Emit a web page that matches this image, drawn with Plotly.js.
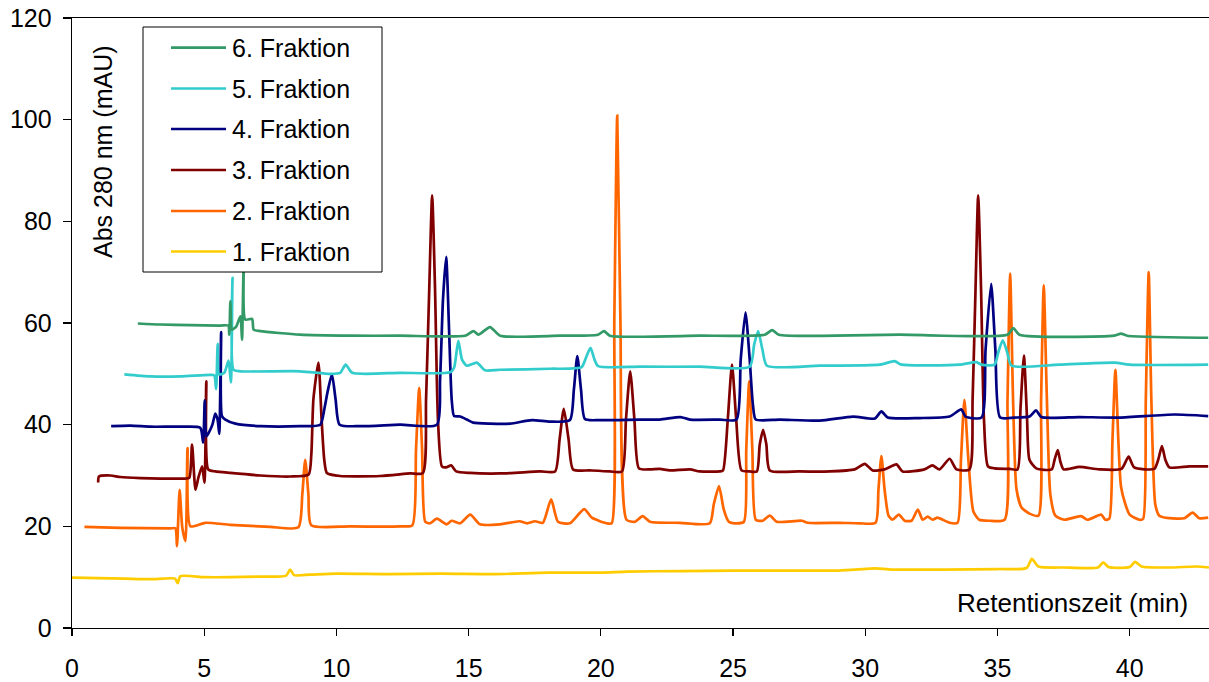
<!DOCTYPE html>
<html>
<head>
<meta charset="utf-8">
<script src="https://cdn.plot.ly/plotly-3.0.1.min.js"></script>
<style>
  html, body { margin: 0; padding: 0; background: #ffffff; }
  #chart { width: 1209px; height: 682px; }
</style>
</head>
<body>
<div id="chart"></div>
<script>
// ---------- data ----------
const seriesNames = ["1. Fraktion", "2. Fraktion", "3. Fraktion", "4. Fraktion", "5. Fraktion", "6. Fraktion"];
const seriesColors = ["#FFCC00", "#FF6600", "#800000", "#000080", "#33CCCC", "#339966"];

// 1. Fraktion
const f1_x = [0, 1, 2, 3, 3.9, 4.0, 4.1, 5, 6, 7, 8.1, 8.25, 8.4, 9, 10, 12, 14, 16, 18, 20, 21, 23, 25, 27, 29, 30.2, 30.5, 31, 33, 35, 36.1, 36.3, 36.55, 37.5, 38.8, 39.0, 39.2, 40.0, 40.2, 40.45, 41.5, 42.5, 43];
const f1_y = [9.9, 9.8, 9.7, 9.6, 9.7, 8.8, 10.2, 10.0, 10.0, 10.1, 10.3, 11.5, 10.4, 10.5, 10.7, 10.6, 10.7, 10.6, 10.9, 10.9, 11.1, 11.2, 11.3, 11.3, 11.3, 11.7, 11.7, 11.5, 11.5, 11.6, 11.8, 13.6, 12.1, 11.9, 11.9, 12.9, 12.0, 12.0, 13.0, 12.1, 11.9, 12.1, 11.9];

// 2. Fraktion
const f2_x = [0.47, 1.83, 3.72, 3.91, 3.97, 4.07, 4.17, 4.29, 4.37, 4.48, 5.04, 5.99, 7.5, 8.56, 8.71, 8.82, 8.94, 9.05, 10.52, 12.41, 12.87, 13.01, 13.13, 13.24, 13.36, 13.54, 13.8, 14.17, 14.36, 14.68, 15.06, 15.43, 16.19, 16.92, 17.21, 17.51, 17.81, 18.12, 18.38, 18.83, 19.37, 19.66, 20.22, 20.41, 20.51, 20.62, 20.74, 20.97, 21.29, 21.58, 21.86, 22.99, 24.12, 24.27, 24.47, 24.65, 24.84, 25.07, 25.41, 25.5, 25.61, 25.73, 25.86, 26.12, 26.39, 26.65, 27.6, 27.82, 29.03, 29.79, 30.39, 30.5, 30.61, 30.73, 30.88, 31.03, 31.27, 31.49, 31.75, 31.99, 32.17, 32.36, 32.55, 32.73, 33.19, 33.49, 33.62, 33.75, 33.9, 34.09, 34.31, 34.69, 35.27, 35.38, 35.48, 35.59, 35.72, 35.91, 36.21, 36.55, 36.65, 36.75, 36.87, 37.0, 37.19, 37.53, 38.16, 38.4, 38.92, 39.08, 39.23, 39.35, 39.46, 39.57, 39.67, 39.84, 40.0, 40.37, 40.51, 40.61, 40.72, 40.82, 40.97, 41.12, 41.5, 42.07, 42.38, 42.63, 42.97];
const f2_y = [19.9, 19.7, 19.6, 19.6, 16.1, 27.2, 19.8, 17.1, 35.4, 20.0, 20.7, 20.3, 19.9, 19.8, 26.3, 33.1, 26.3, 20.2, 20.0, 20.0, 20.2, 35.1, 47.2, 35.1, 20.9, 20.6, 21.5, 20.4, 21.1, 20.6, 22.3, 20.4, 20.4, 21.0, 20.6, 21.0, 20.7, 25.3, 20.9, 20.6, 23.4, 21.7, 20.6, 20.6, 60.7, 100.8, 60.7, 21.3, 20.9, 22.0, 20.9, 20.7, 20.6, 24.3, 27.9, 23.3, 20.9, 20.6, 20.9, 35.1, 48.5, 35.1, 21.3, 21.1, 22.1, 20.9, 21.1, 20.7, 20.7, 20.6, 20.7, 27.3, 33.8, 27.3, 22.1, 21.3, 22.3, 21.1, 21.1, 23.3, 21.3, 21.9, 21.3, 21.7, 20.7, 20.7, 33.1, 44.9, 33.1, 22.9, 21.3, 21.1, 21.3, 44.9, 69.7, 44.9, 27.3, 23.7, 22.5, 22.1, 44.9, 67.4, 44.9, 26.3, 22.1, 21.3, 22.0, 21.3, 22.3, 21.3, 21.5, 37.1, 50.8, 37.1, 27.9, 24.3, 22.3, 21.3, 21.5, 44.9, 70.0, 44.9, 24.3, 22.1, 21.6, 21.6, 22.7, 21.6, 21.7];

// 3. Fraktion
const f3_x = [0.99, 1.02, 1.45, 1.83, 2.59, 3.34, 4.29, 4.44, 4.54, 4.67, 4.78, 4.92, 5.01, 5.08, 5.15, 5.42, 5.99, 7.12, 8.25, 8.95, 9.05, 9.13, 9.32, 9.44, 9.54, 9.64, 10.14, 11.65, 12.79, 13.27, 13.39, 13.51, 13.62, 13.73, 13.84, 13.99, 14.15, 14.34, 14.53, 15.05, 16.19, 17.7, 18.27, 18.44, 18.6, 18.78, 18.95, 19.59, 20.34, 20.8, 20.95, 21.11, 21.27, 21.44, 21.86, 22.23, 22.61, 23.37, 23.74, 24.5, 24.62, 24.8, 24.96, 25.12, 25.32, 25.63, 25.9, 26.01, 26.14, 26.26, 26.39, 27.52, 28.66, 29.6, 29.98, 30.28, 30.73, 31.18, 31.41, 32.24, 32.54, 32.81, 33.19, 33.45, 33.94, 34.06, 34.17, 34.27, 34.38, 34.49, 34.64, 34.89, 35.46, 35.76, 35.87, 36.0, 36.12, 36.21, 36.47, 37.05, 37.16, 37.28, 37.38, 37.5, 38.1, 38.85, 39.69, 39.96, 40.17, 40.93, 41.08, 41.22, 41.35, 41.5, 42.26, 42.97];
const f3_y = [28.6, 29.8, 30.0, 29.7, 29.5, 29.4, 29.4, 29.6, 36.1, 27.2, 29.6, 31.8, 28.6, 48.5, 31.2, 30.8, 30.5, 30.0, 29.8, 30.2, 34.1, 45.0, 52.2, 41.0, 33.1, 30.5, 29.9, 29.9, 30.4, 30.5, 45.0, 66.6, 85.1, 66.6, 41.0, 31.8, 31.6, 32.0, 30.8, 30.5, 30.4, 30.8, 30.8, 37.1, 43.1, 37.1, 31.2, 31.0, 30.8, 30.8, 41.0, 50.5, 41.0, 31.4, 31.2, 31.3, 31.0, 31.2, 30.8, 30.8, 31.0, 41.0, 51.8, 41.0, 31.0, 30.8, 30.8, 36.1, 39.0, 36.1, 31.0, 30.8, 30.8, 31.2, 32.3, 31.0, 31.2, 32.2, 30.8, 31.2, 32.0, 31.2, 33.3, 31.2, 31.2, 45.0, 66.6, 85.1, 66.6, 41.0, 31.8, 31.4, 31.3, 31.2, 43.0, 53.6, 41.0, 33.1, 31.4, 31.2, 33.1, 35.0, 32.7, 31.2, 31.7, 31.2, 31.3, 33.7, 31.6, 31.3, 33.1, 35.8, 33.1, 31.6, 31.8, 31.8];

// 4. Fraktion
const f4_x = [1.48, 2.21, 2.97, 4.1, 4.85, 4.96, 5.02, 5.08, 5.17, 5.31, 5.42, 5.51, 5.57, 5.64, 5.67, 5.8, 6.18, 7.12, 8.63, 9.39, 9.54, 9.66, 9.83, 9.97, 10.12, 10.9, 12.41, 13.8, 13.92, 14.03, 14.15, 14.26, 14.36, 14.45, 14.68, 14.93, 15.17, 15.81, 16.57, 17.39, 18.08, 18.83, 18.98, 19.11, 19.25, 19.4, 19.97, 21.48, 22.23, 23.01, 23.37, 24.5, 25.13, 25.29, 25.47, 25.63, 25.75, 25.86, 26.77, 28.28, 29.54, 30.36, 30.61, 30.85, 32.06, 33.19, 33.63, 33.79, 34.4, 34.55, 34.76, 34.92, 35.1, 35.63, 36.21, 36.46, 36.66, 38.1, 39.61, 41.69, 42.97];
const f4_y = [39.7, 39.8, 39.6, 39.6, 39.4, 36.5, 44.8, 37.7, 38.4, 40.0, 42.2, 40.9, 38.2, 58.2, 41.7, 41.0, 40.2, 39.7, 39.7, 40.0, 43.0, 46.3, 49.9, 44.9, 40.0, 39.7, 40.0, 40.0, 48.9, 64.6, 73.0, 58.7, 44.9, 41.7, 41.6, 41.0, 40.4, 40.2, 40.2, 40.9, 40.6, 40.9, 46.9, 53.5, 46.9, 41.1, 40.9, 41.0, 41.0, 41.5, 41.0, 41.0, 41.0, 52.8, 62.1, 52.8, 44.0, 41.0, 41.0, 40.8, 41.6, 41.2, 42.6, 41.4, 41.3, 41.6, 43.0, 41.6, 41.4, 54.8, 67.7, 54.8, 41.4, 41.4, 41.6, 42.8, 41.5, 41.5, 41.4, 42.0, 41.7];

// 5. Fraktion
const f5_x = [1.98, 2.97, 4.1, 5.23, 5.38, 5.45, 5.51, 5.56, 5.76, 5.92, 6.01, 6.07, 6.11, 6.37, 8.63, 9.77, 10.14, 10.35, 10.6, 12.41, 14.3, 14.45, 14.61, 14.75, 14.93, 15.31, 15.62, 16.19, 18.08, 19.27, 19.44, 19.61, 19.76, 19.9, 21.48, 23.74, 25.63, 25.8, 25.95, 26.11, 26.28, 28.28, 30.55, 31.11, 31.37, 33.56, 34.2, 34.4, 34.89, 35.04, 35.2, 35.36, 35.53, 37.34, 39.42, 39.99, 42.97];
const f5_y = [49.9, 49.5, 49.5, 49.8, 49.7, 47.0, 55.9, 49.9, 50.2, 52.6, 48.3, 68.9, 50.8, 50.5, 50.5, 50.0, 50.2, 51.8, 50.2, 50.2, 50.3, 51.2, 56.5, 52.8, 51.6, 52.2, 50.7, 50.8, 51.0, 51.3, 53.2, 55.1, 52.8, 51.5, 51.4, 51.4, 51.4, 55.8, 58.4, 54.8, 51.6, 51.6, 51.8, 52.5, 51.8, 51.8, 52.3, 51.8, 51.8, 54.4, 56.6, 54.4, 51.6, 51.8, 52.2, 51.8, 51.8];

// 6. Fraktion
const f6_x = [2.49, 3.34, 4.48, 5.61, 5.91, 5.95, 5.99, 6.05, 6.21, 6.37, 6.43, 6.49, 6.55, 6.81, 6.87, 7.12, 8.63, 10.52, 12.41, 14.87, 15.18, 15.37, 15.81, 16.19, 18.45, 19.89, 20.12, 20.34, 23.74, 26.2, 26.48, 26.73, 31.3, 35.38, 35.6, 35.83, 39.42, 39.67, 39.91, 42.97];
const f6_y = [59.9, 59.7, 59.6, 59.5, 59.5, 57.7, 64.3, 58.7, 59.3, 61.3, 56.7, 70.5, 60.7, 60.8, 58.7, 58.4, 57.7, 57.5, 57.5, 57.5, 58.4, 57.7, 59.2, 57.5, 57.5, 57.7, 58.4, 57.5, 57.5, 57.7, 58.6, 57.7, 57.7, 57.7, 59.0, 57.7, 57.5, 57.9, 57.5, 57.1];

const xTickVals = [0, 5, 10, 15, 20, 25, 30, 35, 40];
const yTickVals = [0, 20, 40, 60, 80, 100, 120];
const xTitle = "Retentionszeit (min)";
const yTitle = "Abs 280 nm (mAU)";

// ---------- build ----------
const xs = [f1_x, f2_x, f3_x, f4_x, f5_x, f6_x];
const ys = [f1_y, f2_y, f3_y, f4_y, f5_y, f6_y];

const traces = xs.map((xv, i) => ({
  type: "scatter",
  mode: "lines",
  name: seriesNames[i],
  x: xv,
  y: ys[i],
  line: { color: seriesColors[i], width: 2.7, shape: "spline", smoothing: 0.6 },
  showlegend: false,
  hoverinfo: "skip"
}));

const FONT = "Liberation Sans, Arial, sans-serif";
const W = 1209, H = 682;
const mL = 72, mR = 0, mT = 18, mB = 54;
const pw = W - mL - mR, ph = H - mT - mB;
const px = (p) => (p - mL) / pw;           // pixel x -> paper
const py = (p) => 1 - (p - mT) / ph;       // pixel y -> paper

// manual legend box (6 at top .. 1 at bottom), matching the reference layout
const legendRows = [47.7, 88.5, 129, 170, 211, 251.5];
const shapes = [{
  type: "rect", xref: "paper", yref: "paper", layer: "above",
  x0: px(143), x1: px(382), y0: py(272), y1: py(27),
  line: { color: "#000000", width: 1 }, fillcolor: "#ffffff"
}];
const annotations = [];
for (let r = 0; r < 6; r++) {
  const idx = 5 - r;
  shapes.push({
    type: "line", xref: "paper", yref: "paper", layer: "above",
    x0: px(171), x1: px(226), y0: py(legendRows[r]), y1: py(legendRows[r]),
    line: { color: seriesColors[idx], width: 2.7 }
  });
  annotations.push({
    xref: "paper", yref: "paper", x: px(230), y: py(legendRows[r]),
    xanchor: "left", yanchor: "middle", showarrow: false,
    text: seriesNames[idx], font: { family: FONT, size: 25, color: "#000000" }
  });
}
annotations.push({
  xref: "paper", yref: "paper", x: px(103), y: py(152),
  xanchor: "center", yanchor: "middle", showarrow: false, textangle: -90,
  text: yTitle, font: { family: FONT, size: 25, color: "#000000" }
});
annotations.push({
  xref: "paper", yref: "paper", x: px(1072), y: py(603),
  xanchor: "center", yanchor: "middle", showarrow: false,
  text: xTitle, font: { family: FONT, size: 26, color: "#000000" }
});

const layout = {
  width: W, height: H,
  margin: { l: mL, r: mR, t: mT, b: mB, pad: 0 },
  paper_bgcolor: "#ffffff", plot_bgcolor: "#ffffff",
  showlegend: false,
  font: { family: FONT, color: "#000000" },
  xaxis: {
    range: [0, 43], tickvals: xTickVals, ticks: "outside", ticklen: 7, tickwidth: 1.3,
    tickcolor: "#000000", showline: true, linecolor: "#000000", linewidth: 1.3,
    mirror: true, showgrid: false, zeroline: false,
    tickfont: { family: FONT, size: 25, color: "#000000" }, ticklabelstandoff: 11
  },
  yaxis: {
    range: [0, 120], tickvals: yTickVals, ticks: "outside", ticklen: 8, tickwidth: 1.3,
    tickcolor: "#000000", showline: true, linecolor: "#000000", linewidth: 1.3,
    mirror: false, showgrid: false, zeroline: false,
    tickfont: { family: FONT, size: 25, color: "#000000" }, ticklabelstandoff: 6
  },
  shapes: shapes,
  annotations: annotations
};

Plotly.newPlot("chart", traces, layout, { displayModeBar: false, staticPlot: true });
</script>
</body>
</html>
